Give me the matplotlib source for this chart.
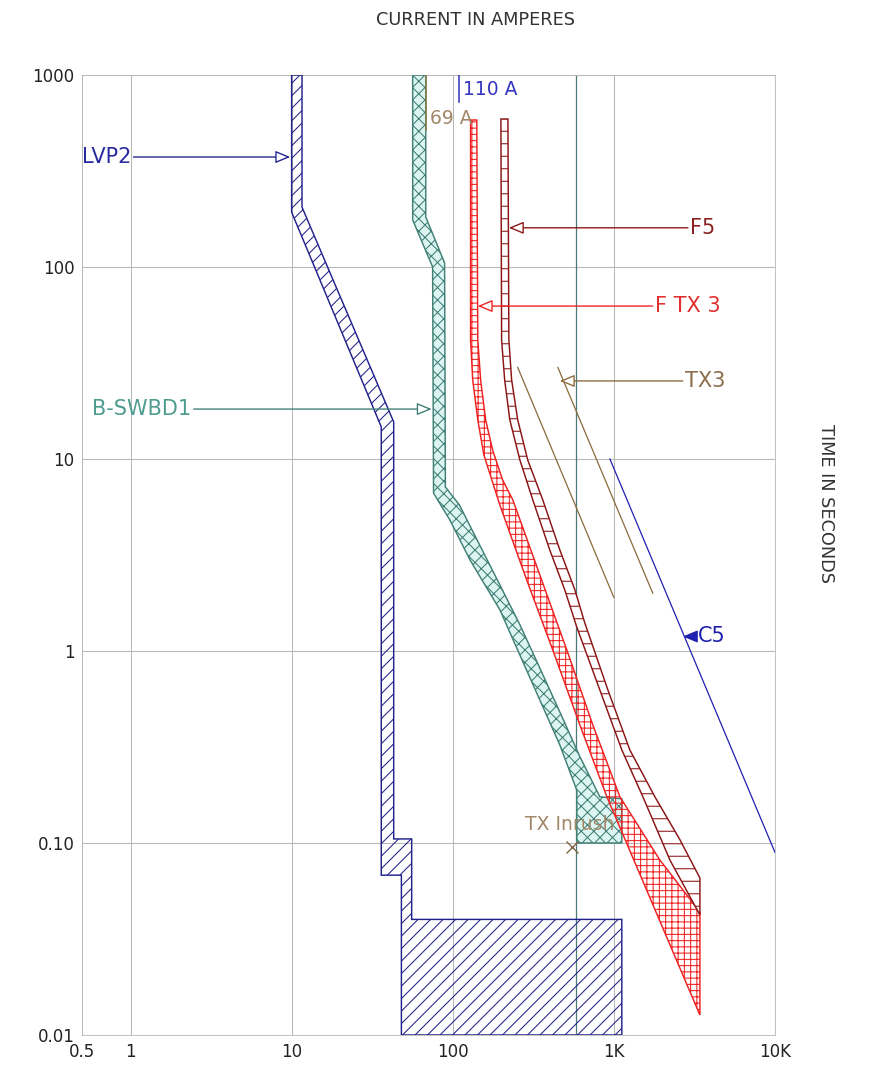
import numpy as np
import matplotlib
matplotlib.use("Agg")
from matplotlib import pyplot as plt

plt.rcParams['font.family'] = ['DejaVu Sans']
plt.rcParams['hatch.linewidth'] = 1.0

# ---- data (current in A, time in s) ----
lvp2_amps = [10, 10, 36, 36, 48, 48, 1120, 1120, 55.6, 55.6, 43, 43, 11.6, 11.6]
lvp2_secs = [1000, 193, 14.7, 0.068, 0.068, 0.01, 0.01, 0.04, 0.04, 0.105, 0.105, 15.6, 205, 1000]

swbd_left_amps = [56.4, 56.4, 75, 76, 96, 128, 196, 261, 347, 462, 589, 589]
swbd_left_secs = [1000, 176, 100, 6.64, 4.81, 2.98, 1.64, 0.953, 0.556, 0.324, 0.188, 0.1]
swbd_box_amps = [1120, 1120]
swbd_box_secs = [0.1, 0.17]
swbd_right_amps = [818, 616, 462, 347, 261, 196, 147, 110, 90, 89, 68, 68]
swbd_right_secs = [0.174, 0.281, 0.481, 0.815, 1.37, 2.21, 3.56, 5.76, 7.15, 105, 182, 1000]

ftx3_left_amps = [129, 129, 133, 143, 156, 175, 196, 288, 418, 615, 905, 1750, 3420]
ftx3_left_secs = [583, 41.7, 25.8, 16.0, 10.5, 7.77, 5.76, 2.34, 1.01, 0.412, 0.174, 0.0475, 0.0127]
ftx3_right_amps = [141, 143, 149, 160, 177, 204, 236, 347, 511, 740, 1090, 1930, 3420]
ftx3_right_secs = [583, 41.7, 25.8, 16.0, 11.1, 7.77, 6.12, 2.49, 1.01, 0.412, 0.174, 0.0815, 0.0437]

f5_left_amps = [199, 201, 210, 226, 261, 314, 400, 496, 589, 818, 1121, 1514, 2228, 3420]
f5_left_secs = [590, 41.7, 25.8, 16.0, 9.88, 6.12, 3.36, 2.08, 1.33, 0.627, 0.305, 0.174, 0.0815, 0.0422]
f5_right_amps = [220, 223, 232, 253, 292, 362, 462, 573, 660, 918, 1257, 1797, 2570, 3420]
f5_right_secs = [590, 41.7, 25.8, 16.0, 9.88, 6.12, 3.36, 2.08, 1.40, 0.627, 0.305, 0.174, 0.104, 0.0657]

tx3_a_amps = [253, 1000]
tx3_a_secs = [30, 1.9]
tx3_b_amps = [449, 1743]
tx3_b_secs = [30, 2.0]

c5_amps = [945, 10000]
c5_secs = [10, 0.0893]

tx_fla = 580
inrush_amps = 548
inrush_secs = 0.095

x_ticks = [0.5, 1, 10, 100, 1000, 10000]
x_labels = ['0.5', '1', '10', '100', '1K', '10K']
y_ticks = [0.01, 0.1, 1, 10, 100, 1000]
y_labels = ['0.01', '0.10', '1', '10', '100', '1000']

# colours
NAVY = '#22228c'
TEAL = '#3f7f76'
TEAL_TXT = '#4e9c8f'
RED = '#f02020'
MAROON = '#8a1414'
BROWN = '#8a6a3c'
TAN = '#a08868'
BLUE = '#2020b0'

fig = plt.figure(figsize=(870 / 75, 1069 / 75), dpi=75)
ax = fig.add_axes([82 / 870, 1 - 1035 / 1069, (775 - 82) / 870, (1035 - 75) / 1069])

ax.set_xscale('log')
ax.set_yscale('log')
ax.set_xlim(0.5, 10000)
ax.set_ylim(0.01, 1000)
ax.set_xticks(x_ticks)
ax.set_xticklabels(x_labels)
ax.set_yticks(y_ticks)
ax.set_yticklabels(y_labels)
ax.minorticks_off()
ax.tick_params(length=0, labelsize=16, colors='#222222')
ax.tick_params(axis='x', pad=8)
ax.tick_params(axis='y', pad=7)
ax.grid(True, color='#b8b8b8', lw=1.0)
ax.set_axisbelow(True)
for s in ax.spines.values():
    s.set_color('#b8b8b8')

# transformer FLA marker line
ax.axvline(tx_fla, color='#4d7a78', lw=1.2, zorder=1.5)

# LVP2 breaker band
ax.fill(lvp2_amps, lvp2_secs, facecolor='none', edgecolor=NAVY, hatch='//', lw=1.4, zorder=3)

# B-SWBD1 band
sw_amps = swbd_left_amps + swbd_box_amps + swbd_right_amps
sw_secs = swbd_left_secs + swbd_box_secs + swbd_right_secs
ax.fill(sw_amps, sw_secs, facecolor='#ddf5f2', zorder=2)
ax.fill(sw_amps, sw_secs, facecolor='none', edgecolor=TEAL, hatch='xx', lw=1.4, zorder=3)

# F TX 3 fuse
fa = ftx3_left_amps + ftx3_right_amps[::-1]
fs = ftx3_left_secs + ftx3_right_secs[::-1]
ax.fill(fa, fs, facecolor='none', edgecolor=RED, hatch='++', lw=1.4, zorder=4)

# F5 fuse
ga = f5_left_amps + f5_right_amps[::-1]
gs = f5_left_secs + f5_right_secs[::-1]
ax.fill(ga, gs, facecolor='white', edgecolor=MAROON, hatch='-', lw=1.4, zorder=5)

# TX3 damage curve
ax.plot(tx3_a_amps, tx3_a_secs, color=BROWN, lw=1.2, zorder=4)
ax.plot(tx3_b_amps, tx3_b_secs, color=BROWN, lw=1.2, zorder=4)

# C5 cable
ax.plot(c5_amps, c5_secs, color=BLUE, lw=1.2, zorder=4)

# pickup markers
ax.plot([110, 110], [1000, 724], color='#3535c0', lw=1.5, zorder=4)
ax.text(115, 836, '110 A', color='#3535c0', fontsize=18, ha='left', va='center')
ax.plot([68, 68], [1000, 518], color='#8a7a40', lw=1.5, zorder=4)
ax.text(72, 597, '69 A', color=TAN, fontsize=18, ha='left', va='center', zorder=6)

# TX inrush
ax.plot(inrush_amps, inrush_secs, marker='x', ms=12, mew=1.3, color='#806040', zorder=6)
ax.text(533, 0.125, 'TX Inrush', color=TAN, fontsize=18, ha='center', va='center', zorder=6)


def tag(label, tip, pos, color, txtcolor, ha, fill='white'):
    ax.annotate(label, xy=tip, xytext=pos, color=txtcolor, fontsize=20,
                ha=ha, va='center', zorder=7,
                arrowprops=dict(arrowstyle='-|>,head_length=0.6,head_width=0.25',
                                fc=fill, ec=color, lw=1.3,
                                shrinkA=0, shrinkB=0))


tag('LVP2', (9.8, 374), (0.5, 374), NAVY, '#2a2aa0', 'left')
tag('B-SWBD1', (74, 18.2), (0.58, 18.2), TEAL, TEAL_TXT, 'left')
tag('F5', (223, 160), (2970, 160), MAROON, '#8a2020', 'left')
tag('F TX 3', (143, 62.6), (1796, 62.6), RED, '#e03030', 'left')
tag('TX3', (462, 25.5), (2758, 25.5), BROWN, '#8b6d4a', 'left')
tag('C5', (2680, 1.19), (3300, 1.19), BLUE, BLUE, 'left', fill=BLUE)

fig.text(476 / 870, 1 - 20 / 1069, 'CURRENT IN AMPERES', fontsize=17,
         color='#333333', ha='center', va='center')
fig.text(826 / 870, 1 - 503 / 1069, 'TIME IN SECONDS', fontsize=17,
         color='#333333', ha='center', va='center', rotation=270)

fig.savefig('out.png', dpi=75)
